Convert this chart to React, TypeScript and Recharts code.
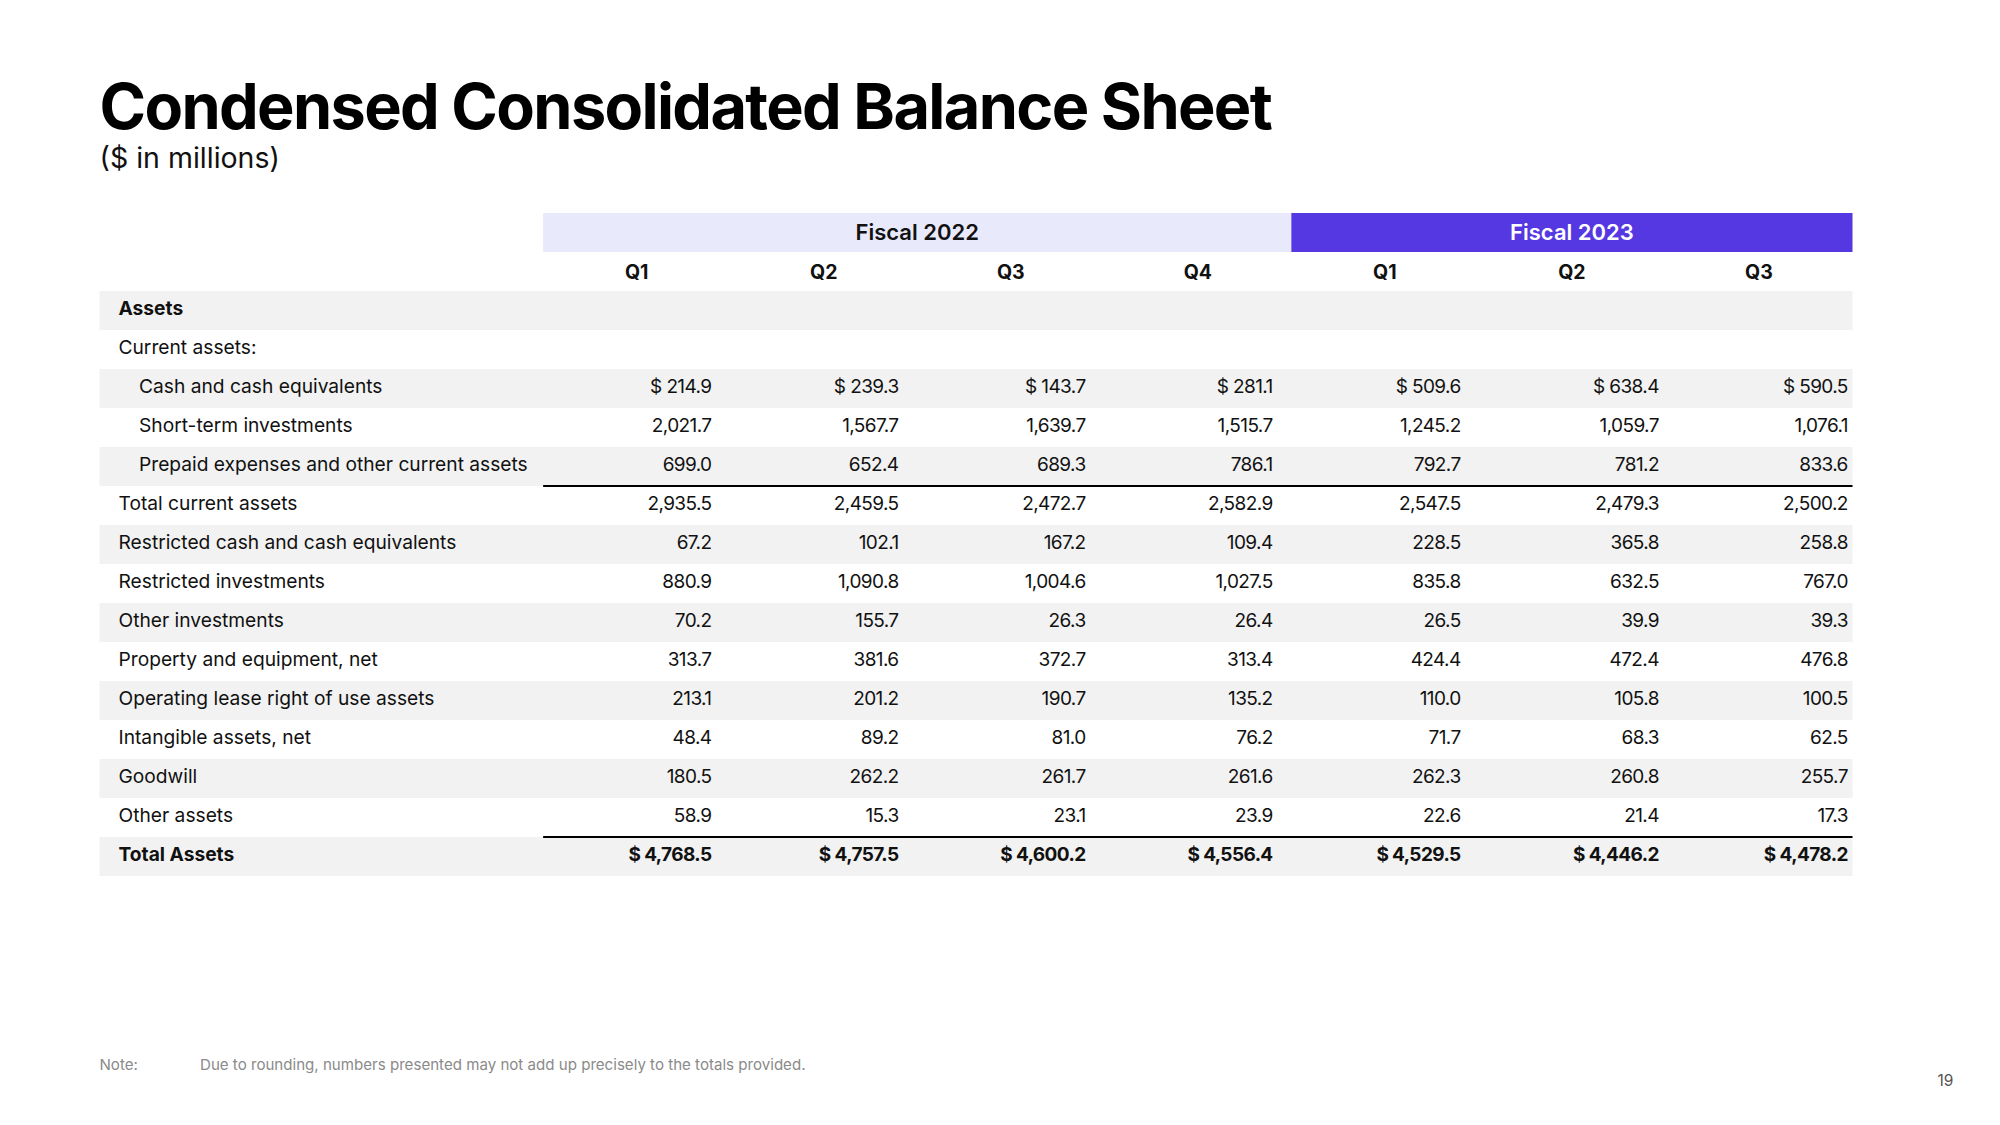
import React from 'react';
import { ScatterChart, Scatter, XAxis, YAxis, ReferenceArea, ReferenceLine } from 'recharts';

// ---------- data ----------
const quarters = ['Q1', 'Q2', 'Q3', 'Q4', 'Q1', 'Q2', 'Q3'];
const fiscalYears = ['Fiscal 2022', 'Fiscal 2023'];
const fiscalSpans = [[0, 4], [4, 7]];

const rowLabels = [
  'Assets',
  'Current assets:',
  'Cash and cash equivalents',
  'Short-term investments',
  'Prepaid expenses and other current assets',
  'Total current assets',
  'Restricted cash and cash equivalents',
  'Restricted investments',
  'Other investments',
  'Property and equipment, net',
  'Operating lease right of use assets',
  'Intangible assets, net',
  'Goodwill',
  'Other assets',
  'Total Assets',
];
const rowIndented = [false, false, true, true, true, false, false, false, false, false, false, false, false, false, false];
const rowBold = [true, false, false, false, false, false, false, false, false, false, false, false, false, false, true];
const dollarRows = [2, 14];

const fy22q1 = [null, null, 214.9, 2021.7, 699.0, 2935.5, 67.2, 880.9, 70.2, 313.7, 213.1, 48.4, 180.5, 58.9, 4768.5];
const fy22q2 = [null, null, 239.3, 1567.7, 652.4, 2459.5, 102.1, 1090.8, 155.7, 381.6, 201.2, 89.2, 262.2, 15.3, 4757.5];
const fy22q3 = [null, null, 143.7, 1639.7, 689.3, 2472.7, 167.2, 1004.6, 26.3, 372.7, 190.7, 81.0, 261.7, 23.1, 4600.2];
const fy22q4 = [null, null, 281.1, 1515.7, 786.1, 2582.9, 109.4, 1027.5, 26.4, 313.4, 135.2, 76.2, 261.6, 23.9, 4556.4];
const fy23q1 = [null, null, 509.6, 1245.2, 792.7, 2547.5, 228.5, 835.8, 26.5, 424.4, 110.0, 71.7, 262.3, 22.6, 4529.5];
const fy23q2 = [null, null, 638.4, 1059.7, 781.2, 2479.3, 365.8, 632.5, 39.9, 472.4, 105.8, 68.3, 260.8, 21.4, 4446.2];
const fy23q3 = [null, null, 590.5, 1076.1, 833.6, 2500.2, 258.8, 767.0, 39.3, 476.8, 100.5, 62.5, 255.7, 17.3, 4478.2];
const columns = [fy22q1, fy22q2, fy22q3, fy22q4, fy23q1, fy23q2, fy23q3];

const ruleRows = [5, 14];

// ---------- layout / style ----------
const W = 2000;
const H = 1125;
const FONT = 'Inter, "Noto Sans", sans-serif';
const X_MIN = -2.3717; // label column width in quarter-column units
const VALUE_ANCHOR = [0.9, 0.9, 0.9, 0.9, 0.905, 0.965, 0.975];
const GRAY = '#F2F2F2';
const LAVENDER = '#E9E9FC';
const PURPLE = '#5538E2';
const BODY_DY = '0.26em';

const fmt = (v: number, dollar: boolean) =>
  (dollar ? '$ ' : '') + v.toLocaleString('en-US', { minimumFractionDigits: 1, maximumFractionDigits: 1 });

const labelData = rowLabels.map((t, r) => ({ x: X_MIN, y: r + 0.5, text: t, indent: rowIndented[r], bold: rowBold[r] }));
const headerData = quarters.map((q, c) => ({ x: c + 0.5, y: -0.5, text: q }));
const fiscalData = fiscalYears.map((f, i) => ({ x: (fiscalSpans[i][0] + fiscalSpans[i][1]) / 2, y: -1.5, text: f, light: i === 1 }));
const valueData: any[] = [];
columns.forEach((col, c) => {
  col.forEach((v, r) => {
    if (v === null) return;
    valueData.push({ x: c + VALUE_ANCHOR[c], y: r + 0.5, text: fmt(v, dollarRows.includes(r)), bold: r === 14 });
  });
});

const LabelShape = (p: any) => (
  <text x={p.cx + (p.payload.indent ? 39.5 : 19)} y={p.cy} dy={BODY_DY} fontFamily={FONT} fontSize={19.2}
    fontWeight={p.payload.bold ? 700 : 400} fill="#111" textAnchor="start">{p.payload.text}</text>
);
const HeaderShape = (p: any) => (
  <text x={p.cx} y={p.cy} dy="0.36em" fontFamily={FONT} fontSize={19.5} fontWeight={700} fill="#111" textAnchor="middle">{p.payload.text}</text>
);
const FiscalShape = (p: any) => (
  <text x={p.cx} y={p.cy} dy="0.36em" fontFamily={FONT} fontSize={22} fontWeight={600}
    fill={p.payload.light ? '#fff' : '#111'} textAnchor="middle">{p.payload.text}</text>
);
const ValueShape = (p: any) => (
  <text x={p.cx} y={p.cy} dy={BODY_DY} fontFamily={FONT} fontSize={19} letterSpacing={-0.6}
    fontWeight={p.payload.bold ? 700 : 400} fill="#111" textAnchor="end">{p.payload.text}</text>
);

export default function App() {
  return (
    <div style={{ position: 'absolute', left: 0, top: 0, width: W, height: H, background: '#fff' }}>
      <svg width={W} height={H} style={{ position: 'absolute', left: 0, top: 0 }}>
        <text x={99.5} y={128.8} fontFamily={FONT} fontSize={63} fontWeight={700} fill="#000" letterSpacing={-1.65}>
          Condensed Consolidated Balance Sheet
        </text>
        <text x={99.5} y={168} fontFamily={FONT} fontSize={28.5} fontWeight={400} fill="#111">($ in millions)</text>
        <text x={99.5} y={1070} fontFamily={FONT} fontSize={15.1} fill="#8a8a8a">Note:</text>
        <text x={200} y={1070} fontFamily={FONT} fontSize={15.1} fill="#8a8a8a">
          Due to rounding, numbers presented may not add up precisely to the totals provided.
        </text>
        <text x={1937.5} y={1085.5} fontFamily={FONT} fontSize={15.5} fill="#555">19</text>
      </svg>
      <div style={{ position: 'absolute', left: 0, top: 0 }}>
        <ScatterChart width={W} height={H} margin={{ left: 99.5, right: 147.5, top: 213, bottom: 249 }}>
          <XAxis type="number" dataKey="x" domain={[X_MIN, 7]} hide allowDataOverflow />
          <YAxis type="number" dataKey="y" domain={[-2, 15]} reversed hide allowDataOverflow />
          {rowLabels.map((_, r) =>
            r % 2 === 0 ? (
              <ReferenceArea key={'bg' + r} x1={X_MIN} x2={7} y1={r} y2={r + 1} fill={GRAY} fillOpacity={1} stroke="none" />
            ) : null
          )}
          <ReferenceArea x1={fiscalSpans[0][0]} x2={fiscalSpans[0][1]} y1={-2} y2={-1} fill={LAVENDER} fillOpacity={1} stroke="none" />
          <ReferenceArea x1={fiscalSpans[1][0]} x2={fiscalSpans[1][1]} y1={-2} y2={-1} fill={PURPLE} fillOpacity={1} stroke="none" />
          {ruleRows.map((r) => (
            <ReferenceLine key={'rule' + r} segment={[{ x: 0, y: r }, { x: 7, y: r }]} stroke="#000" strokeWidth={2.2} />
          ))}
          <Scatter data={labelData} shape={LabelShape} isAnimationActive={false} />
          <Scatter data={headerData} shape={HeaderShape} isAnimationActive={false} />
          <Scatter data={fiscalData} shape={FiscalShape} isAnimationActive={false} />
          <Scatter data={valueData} shape={ValueShape} isAnimationActive={false} />
        </ScatterChart>
      </div>
    </div>
  );
}
